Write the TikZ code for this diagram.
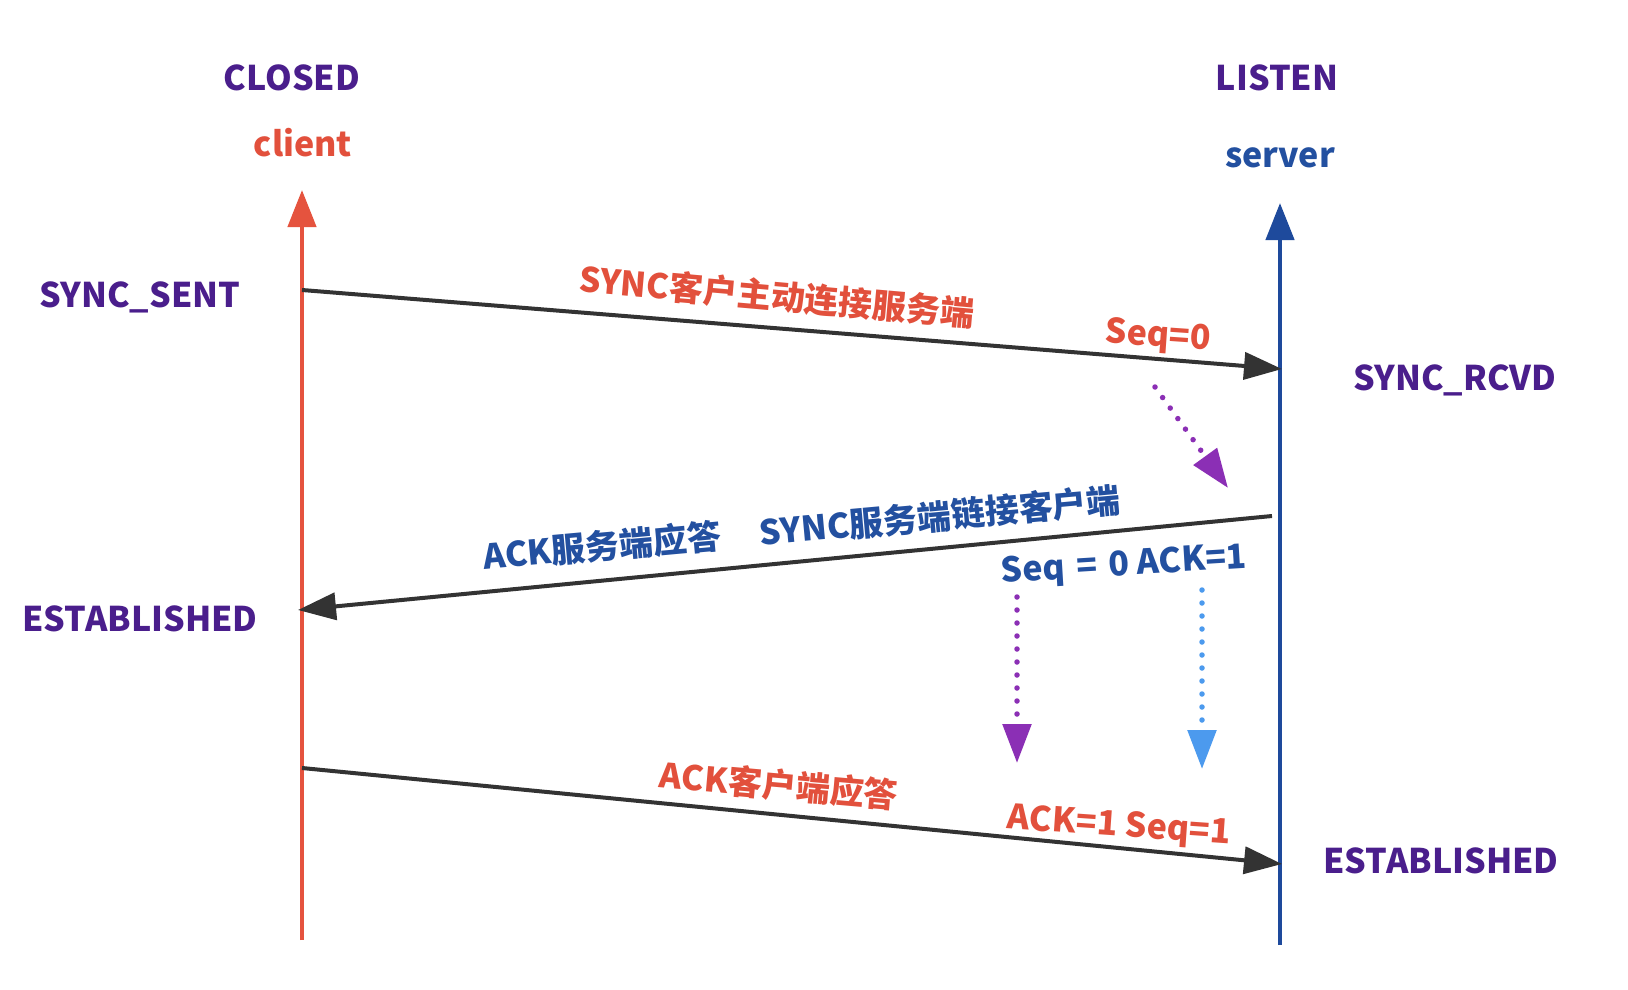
\documentclass[tikz,border=0pt]{standalone}
\usepackage{fontspec}
\setmainfont{Noto Sans CJK SC}
\usetikzlibrary{arrows.meta}
\definecolor{stpurple}{HTML}{4A1E8C}
\definecolor{cred}{HTML}{E5533E}
\definecolor{tred}{HTML}{E2503C}
\definecolor{sblue}{HTML}{1E4A9C}
\definecolor{tblue}{HTML}{2350A0}
\definecolor{apurple}{HTML}{8B2FB5}
\definecolor{ablue}{HTML}{4C9AEE}
\definecolor{msg}{HTML}{333333}
\tikzset{
  state/.style={text=stpurple,font=\fontsize{34}{40}\selectfont\bfseries,inner sep=0pt},
  rlab/.style={text=tred,font=\fontsize{34}{40}\selectfont\bfseries,inner sep=0pt},
  blab/.style={text=tblue,font=\fontsize{34}{40}\selectfont\bfseries,inner sep=0pt},
  life/.style={line width=4.5pt,-{Triangle[length=37pt,width=28pt]}},
  msgline/.style={draw=msg,line width=4pt,-{Triangle[length=38pt,width=27pt]}},
  dotline/.style={line width=5.5pt,line cap=round,dash pattern=on 0pt off 13pt,-{Triangle[length=39pt,width=28pt]}}
}
\begin{document}
\begin{tikzpicture}[x=1pt,y=-1pt]
\useasboundingbox[fill=white] (0,0) rectangle (1628,990);
% lifelines
\coordinate (cTop) at (302,190);
\coordinate (cBot) at (302,940);
\coordinate (sTop) at (1280,203);
\coordinate (sBot) at (1280,945);
\draw[life,cred] (cBot) -- (cTop);
\draw[life,sblue] (sBot) -- (sTop);
% header labels
\node[state] (closed) at (292,78) {CLOSED};
\node[rlab] (client) at (303,143) {client};
\node[state] (listen) at (1277,78) {LISTEN};
\node[blab] (server) at (1280,158) {server};
% state labels
\node[state] (ssent) at (140,297) {SYNC\_SENT};
\node[state] (srcvd) at (1455,380) {SYNC\_RCVD};
\node[state] (estc) at (140,619) {ESTABLISHED};
\node[state] (ests) at (1441,861) {ESTABLISHED};
% messages
\coordinate (m1a) at (302,290);
\coordinate (m1b) at (1282,369);
\draw[msgline] (m1a) -- (m1b);
\node[rlab,rotate=-5] (l1) at (777,296) {SYNC客户主动连接服务端};
\node[rlab,rotate=-4] (l1b) at (1158,337) {Seq=0};
\coordinate (m2a) at (1272,516);
\coordinate (m2b) at (298,610);
\draw[msgline] (m2a) -- (m2b);
\node[blab,rotate=5.2] (l2a) at (602,546) {ACK服务端应答};
\node[blab,rotate=5.2] (l2b) at (940,516) {SYNC服务端链接客户端};
\node[blab,rotate=3.5] (l2c) at (1124,566) {Seq\,\,=\,\,0 ACK=1};
\coordinate (m3a) at (302,768);
\coordinate (m3b) at (1282,864);
\draw[msgline] (m3a) -- (m3b);
\node[rlab,rotate=-5] (l3a) at (779,785) {ACK客户端应答};
\node[rlab,rotate=-4] (l3b) at (1119,827) {ACK=1 Seq=1};
% dotted arrows
\coordinate (d1a) at (1155,387);
\coordinate (d1b) at (1228,488);
\draw[dotline,apurple] (d1a) -- (d1b);
\coordinate (d2a) at (1017,597);
\coordinate (d2b) at (1017,763);
\draw[dotline,apurple] (d2a) -- (d2b);
\coordinate (d3a) at (1202,590);
\coordinate (d3b) at (1202,769);
\draw[dotline,ablue] (d3a) -- (d3b);
\end{tikzpicture}
\end{document}
